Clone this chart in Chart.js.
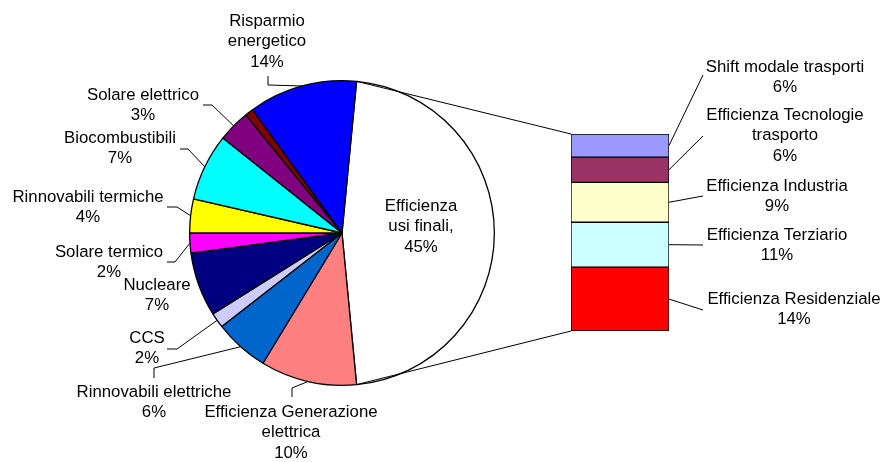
<!DOCTYPE html>
<html>
<head>
<meta charset="utf-8">
<script src="https://cdn.jsdelivr.net/npm/chart.js@4.4.1/dist/chart.umd.min.js"></script>
<style>
  body { margin: 0; background: #fff; }
  #wrap { position: relative; width: 884px; height: 462px; }
  #wrap canvas { position: absolute; left: 0; top: 0; }
</style>
</head>
<body>
<div id="wrap">
  <canvas id="pieChart" width="884" height="462"></canvas>
  <canvas id="barChart" width="884" height="462"></canvas>
</div>
<script>
// =========================
// DATA
// =========================
// pie slices, clockwise starting from the "usi finali" slice
const pieLabels = ["Efficienza\nusi finali,", "Efficienza Generazione\nelettrica", "Rinnovabili elettriche", "CCS", "Nucleare",
    "Solare termico", "Rinnovabili termiche", "Biocombustibili", "Solare elettrico", "", "Risparmio\nenergetico"];
const pieValues = [46.9, 10.2, 5.8, 1.6, 6.8, 2.1, 3.6, 7.1, 3.4, 0.9, 11.5];
const piePercents = ["45%", "10%", "6%", "2%", "7%", "2%", "4%", "7%", "3%", "", "14%"];
const pieColors = ["#FFFFFF", "#FF8080", "#0066CC", "#CCCCFF", "#000080",
    "#FF00FF", "#FFFF00", "#00FFFF", "#800080", "#800000", "#0000FF"];

// breakdown of "usi finali", bottom to top
const barLabels = ["Efficienza Residenziale", "Efficienza Terziario", "Efficienza Industria",
    "Efficienza Tecnologie\ntrasporto", "Shift modale trasporti"];
const barValues = [15.2, 10.7, 9.5, 6.0, 5.5];
const barPercents = ["14%", "11%", "9%", "6%", "6%"];
const barColors = ["#FF0000", "#CCFFFF", "#FFFFCC", "#993366", "#9999FF"];

// =========================
// LABEL LAYOUT (text centre + leader elbow)
// =========================
const pieLabelPos = [
    { x: 421, y: 206 },
    { x: 291, y: 412, leader: [[292, 397], [292, 388]] },
    { x: 154, y: 392, leader: [[154, 378], [154, 368]] },
    { x: 147, y: 338, leader: [[167, 349], [177, 349]] },
    { x: 157, y: 285 },
    { x: 109, y: 252, leader: [[167, 262], [175, 262]] },
    { x: 88, y: 197, leader: [[167, 207], [177, 207]] },
    { x: 120, y: 138, leader: [[180, 149], [188, 149]] },
    { x: 143, y: 95, leader: [[203, 105], [212, 105]] },
    null,
    { x: 267, y: 21, leader: [[268, 76], [268, 85]] }
];
const barLabelPos = [
    { x: 794, y: 299, leader: [[703, 310]] },
    { x: 777, y: 235, leader: [[703, 245]] },
    { x: 777, y: 186, leader: [[703, 196]] },
    { x: 785, y: 115, leader: [[703, 136]] },
    { x: 785, y: 67, leader: [[703, 75]] }
];

const FONT = '16.8px "Liberation Sans", Arial, sans-serif';
const LINE_H = 20.7;

function drawLabel(ctx, pos, text, pct, target) {
    if (!pos) return;
    ctx.save();
    ctx.font = FONT;
    ctx.fillStyle = "#000";
    ctx.textAlign = "center";
    ctx.textBaseline = "middle";
    const lines = text.split("\n").concat(pct ? [pct] : []);
    lines.forEach((l, i) => ctx.fillText(l, pos.x, pos.y + i * LINE_H));
    if (pos.leader && target) {
        ctx.strokeStyle = "#000";
        ctx.lineWidth = 1;
        ctx.beginPath();
        ctx.moveTo(pos.leader[0][0], pos.leader[0][1]);
        pos.leader.slice(1).forEach(p => ctx.lineTo(p[0], p[1]));
        ctx.lineTo(target[0], target[1]);
        ctx.stroke();
    }
    ctx.restore();
}

// =========================
// PIE
// =========================
const pieTotal = pieValues.reduce((a, b) => a + b, 0);

const pieChart = new Chart(document.getElementById("pieChart"), {
    type: "pie",
    data: {
        labels: pieLabels,
        datasets: [{
            data: pieValues,
            backgroundColor: pieColors,
            borderColor: "#000",
            borderWidth: 1.3
        }]
    },
    options: {
        responsive: false,
        animation: false,
        // centre the first slice on the right side
        rotation: 90 - pieValues[0] / pieTotal * 180,
        layout: { padding: { left: 189, right: 389, top: 80, bottom: 76 } },
        plugins: { legend: { display: false }, tooltip: { enabled: false } }
    },
    plugins: [{
        id: "pieLabels",
        afterDraw(chart) {
            const ctx = chart.ctx;
            chart.getDatasetMeta(0).data.forEach((arc, i) => {
                const p = arc.getProps(["x", "y", "startAngle", "endAngle", "outerRadius"], true);
                const mid = (p.startAngle + p.endAngle) / 2;
                const target = [p.x + Math.cos(mid) * p.outerRadius, p.y + Math.sin(mid) * p.outerRadius];
                drawLabel(ctx, pieLabelPos[i], pieLabels[i], piePercents[i], target);
            });
        }
    }]
});

// =========================
// BAR (stacked, one column)
// =========================
new Chart(document.getElementById("barChart"), {
    type: "bar",
    data: {
        labels: [""],
        datasets: barValues.map((v, i) => ({
            label: barLabels[i],
            data: [v],
            backgroundColor: barColors[i],
            borderColor: "#000",
            borderWidth: 1,
            borderSkipped: false,
            barPercentage: 1,
            categoryPercentage: 1
        }))
    },
    options: {
        responsive: false,
        animation: false,
        layout: { padding: { left: 571, right: 215, top: 134, bottom: 131 } },
        scales: {
            x: { stacked: true, display: false },
            y: { stacked: true, display: false, min: 0, max: barValues.reduce((a, b) => a + b, 0) }
        },
        plugins: { legend: { display: false }, tooltip: { enabled: false } }
    },
    plugins: [{
        id: "barLabels",
        afterDraw(chart) {
            const ctx = chart.ctx;
            const bars = chart.data.datasets.map((d, i) => chart.getDatasetMeta(i).data[0]);
            bars.forEach((bar, i) => {
                const p = bar.getProps(["x", "y", "base", "width"], true);
                drawLabel(ctx, barLabelPos[i], barLabels[i], barPercents[i], [p.x + p.width / 2, (p.y + p.base) / 2]);
            });

            // connector lines from the "usi finali" slice edges to the column
            const arc = pieChart.getDatasetMeta(0).data[0].getProps(["x", "y", "startAngle", "endAngle", "outerRadius"], true);
            const top = bars[bars.length - 1].getProps(["x", "y", "width"], true);
            const bottom = bars[0].getProps(["x", "base", "width"], true);
            ctx.save();
            ctx.strokeStyle = "#000";
            ctx.lineWidth = 1;
            ctx.beginPath();
            ctx.moveTo(arc.x + Math.cos(arc.startAngle) * arc.outerRadius, arc.y + Math.sin(arc.startAngle) * arc.outerRadius);
            ctx.lineTo(top.x - top.width / 2, top.y);
            ctx.moveTo(arc.x + Math.cos(arc.endAngle) * arc.outerRadius, arc.y + Math.sin(arc.endAngle) * arc.outerRadius);
            ctx.lineTo(bottom.x - bottom.width / 2, bottom.base);
            ctx.stroke();
            ctx.restore();
        }
    }]
});
</script>
</body>
</html>
